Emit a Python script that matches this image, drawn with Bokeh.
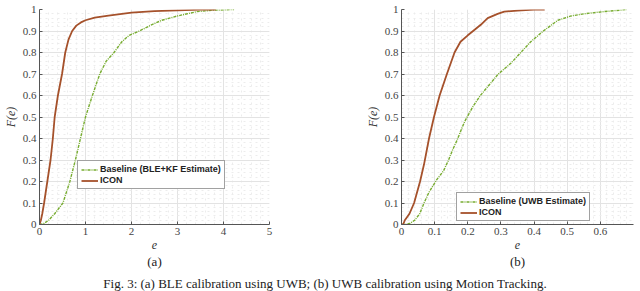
from bokeh.plotting import figure
from bokeh.layouts import row, column
from bokeh.models import (Range1d, SingleIntervalTicker, NumeralTickFormatter,
                          Legend, LegendItem, Title, Div)
from bokeh.embed import file_html
from bokeh.resources import INLINE

# ---- data (a): BLE calibration using UWB ----
a_base_e = [0, 0.1, 0.2, 0.33, 0.51, 0.66, 0.78, 0.89, 1.0, 1.15, 1.31, 1.45, 1.62,
            1.79, 1.95, 2.17, 2.4, 2.66, 3.0, 3.42, 3.8, 4.23]
a_base_F = [0, 0.005, 0.02, 0.05, 0.1, 0.2, 0.3, 0.4, 0.5, 0.6, 0.7, 0.76, 0.8,
            0.85, 0.88, 0.9, 0.925, 0.95, 0.97, 0.99, 0.997, 1.0]
a_icon_e = [0, 0.03, 0.06, 0.1, 0.17, 0.24, 0.29, 0.33, 0.4, 0.49, 0.56, 0.63, 0.71,
            0.8, 0.9, 1.0, 1.2, 1.5, 2.0, 2.5, 3.0, 3.5, 3.83]
a_icon_F = [0, 0.02, 0.05, 0.1, 0.2, 0.3, 0.4, 0.5, 0.6, 0.7, 0.8, 0.86, 0.9,
            0.925, 0.94, 0.95, 0.962, 0.972, 0.985, 0.992, 0.996, 0.999, 1.0]

# ---- data (b): UWB calibration using Motion Tracking ----
b_base_e = [0, 0.01, 0.025, 0.04, 0.055, 0.068, 0.083, 0.107, 0.127, 0.142, 0.155,
            0.167, 0.18, 0.191, 0.216, 0.238, 0.265, 0.292, 0.33, 0.36, 0.39, 0.428,
            0.472, 0.512, 0.55, 0.61, 0.68]
b_base_F = [0, 0, 0.005, 0.02, 0.05, 0.1, 0.15, 0.21, 0.25, 0.3, 0.35, 0.39, 0.44,
            0.48, 0.55, 0.6, 0.65, 0.7, 0.75, 0.8, 0.85, 0.9, 0.95, 0.97, 0.98, 0.99, 1.0]
b_icon_e = [0, 0.005, 0.01, 0.024, 0.038, 0.056, 0.068, 0.083, 0.098, 0.115, 0.137,
            0.16, 0.178, 0.2, 0.216, 0.24, 0.26, 0.29, 0.31, 0.35, 0.4, 0.432]
b_icon_F = [0, 0.0, 0.02, 0.05, 0.1, 0.2, 0.28, 0.4, 0.5, 0.6, 0.7, 0.8, 0.85, 0.88,
            0.9, 0.93, 0.96, 0.98, 0.99, 0.995, 0.999, 1.0]

labels_a = ["Baseline (BLE+KF Estimate)", "ICON"]
labels_b = ["Baseline (UWB Estimate)", "ICON"]
sub_titles = ["(a)", "(b)"]
caption = "Fig. 3: (a) BLE calibration using UWB; (b) UWB calibration using Motion Tracking."

GREEN = "#77AC30"
BROWN = "#A5512B"
SERIF = "Liberation Serif"
SANS = "Liberation Sans"


def make_panel(width, xmax, xstep, base_e, base_F, icon_e, icon_F, labels, sub,
               mbl, mbr, mbt, leg_loc):
    p = figure(width=width, height=272, output_backend="svg", toolbar_location=None,
               x_range=Range1d(0, xmax), y_range=Range1d(0, 1),
               min_border_left=mbl, min_border_right=mbr,
               min_border_top=mbt, min_border_bottom=48)
    p.background_fill_color = "white"
    p.border_fill_color = "white"
    p.outline_line_color = None

    p.xaxis.ticker = SingleIntervalTicker(interval=xstep, num_minor_ticks=5)
    p.yaxis.ticker = SingleIntervalTicker(interval=0.1, num_minor_ticks=5)
    for ax in (p.xaxis[0], p.yaxis[0]):
        ax.formatter = NumeralTickFormatter(format="0.[0]")
        ax.major_label_text_font = SERIF
        ax.major_label_text_font_size = "11px"
        ax.major_label_text_color = "#444444"
        ax.axis_line_color = "#555555"
        ax.major_tick_line_color = "#555555"
        ax.minor_tick_line_color = "#555555"
        ax.major_tick_in = 3
        ax.major_tick_out = 0
        ax.minor_tick_in = 0
        ax.minor_tick_out = 0
        ax.major_label_standoff = 3
        ax.axis_label_text_font = SERIF
        ax.axis_label_text_font_style = "italic"
        ax.axis_label_text_font_size = "12px"
        ax.axis_label_text_color = "#333333"
    p.xaxis.axis_label = "e"
    p.yaxis.axis_label = "F(e)"
    p.xaxis.axis_label_standoff = 3
    p.yaxis.axis_label_standoff = 2

    for g in (p.xgrid[0], p.ygrid[0]):
        g.grid_line_color = "#e3e3e3"
        g.grid_line_width = 1
        g.minor_grid_line_color = "#ececec"
        g.minor_grid_line_dash = "dotted"

    r1 = p.line(base_e, base_F, line_color=GREEN, line_width=1.4, line_dash="3 1 1 1")
    r2 = p.line(icon_e, icon_F, line_color=BROWN, line_width=1.8)

    leg = Legend(items=[LegendItem(label=labels[0], renderers=[r1]),
                        LegendItem(label=labels[1], renderers=[r2])],
                 location=leg_loc)
    leg.label_text_font = SANS
    leg.label_text_font_style = "bold"
    leg.label_text_font_size = "9px"
    leg.label_text_color = "#222222"
    leg.label_height = 9
    leg.glyph_height = 9
    leg.glyph_width = 17
    leg.label_standoff = 2
    leg.spacing = 1
    leg.padding = 3
    leg.margin = 0
    leg.border_line_color = "#444444"
    leg.border_line_width = 1
    leg.background_fill_color = "white"
    leg.background_fill_alpha = 1
    p.add_layout(leg, "center")

    p.add_layout(Title(text=sub, align="center", text_font=SERIF,
                       text_font_size="13px", text_font_style="normal",
                       text_color="#222222", standoff=1, offset=0), "below")
    return p


p1 = make_panel(362, 5, 1, a_base_e, a_base_F, a_icon_e, a_icon_F, labels_a,
                sub_titles[0], 29, 93, 6, (38, 35))
p2 = make_panel(278, 0.7, 0.1, b_base_e, b_base_F, b_icon_e, b_icon_F, labels_b,
                sub_titles[1], 35, 7, 9, (55, 3))

cap = Div(text=caption, width=640, height=19,
          styles={"font-family": SERIF, "font-size": "13px", "color": "#222222",
                  "text-align": "center", "overflow": "hidden", "white-space": "nowrap",
                  "line-height": "13px"})

layout = column(row(p1, p2, spacing=0), cap, spacing=0)
open("out.html", "w").write(file_html(layout, INLINE))
